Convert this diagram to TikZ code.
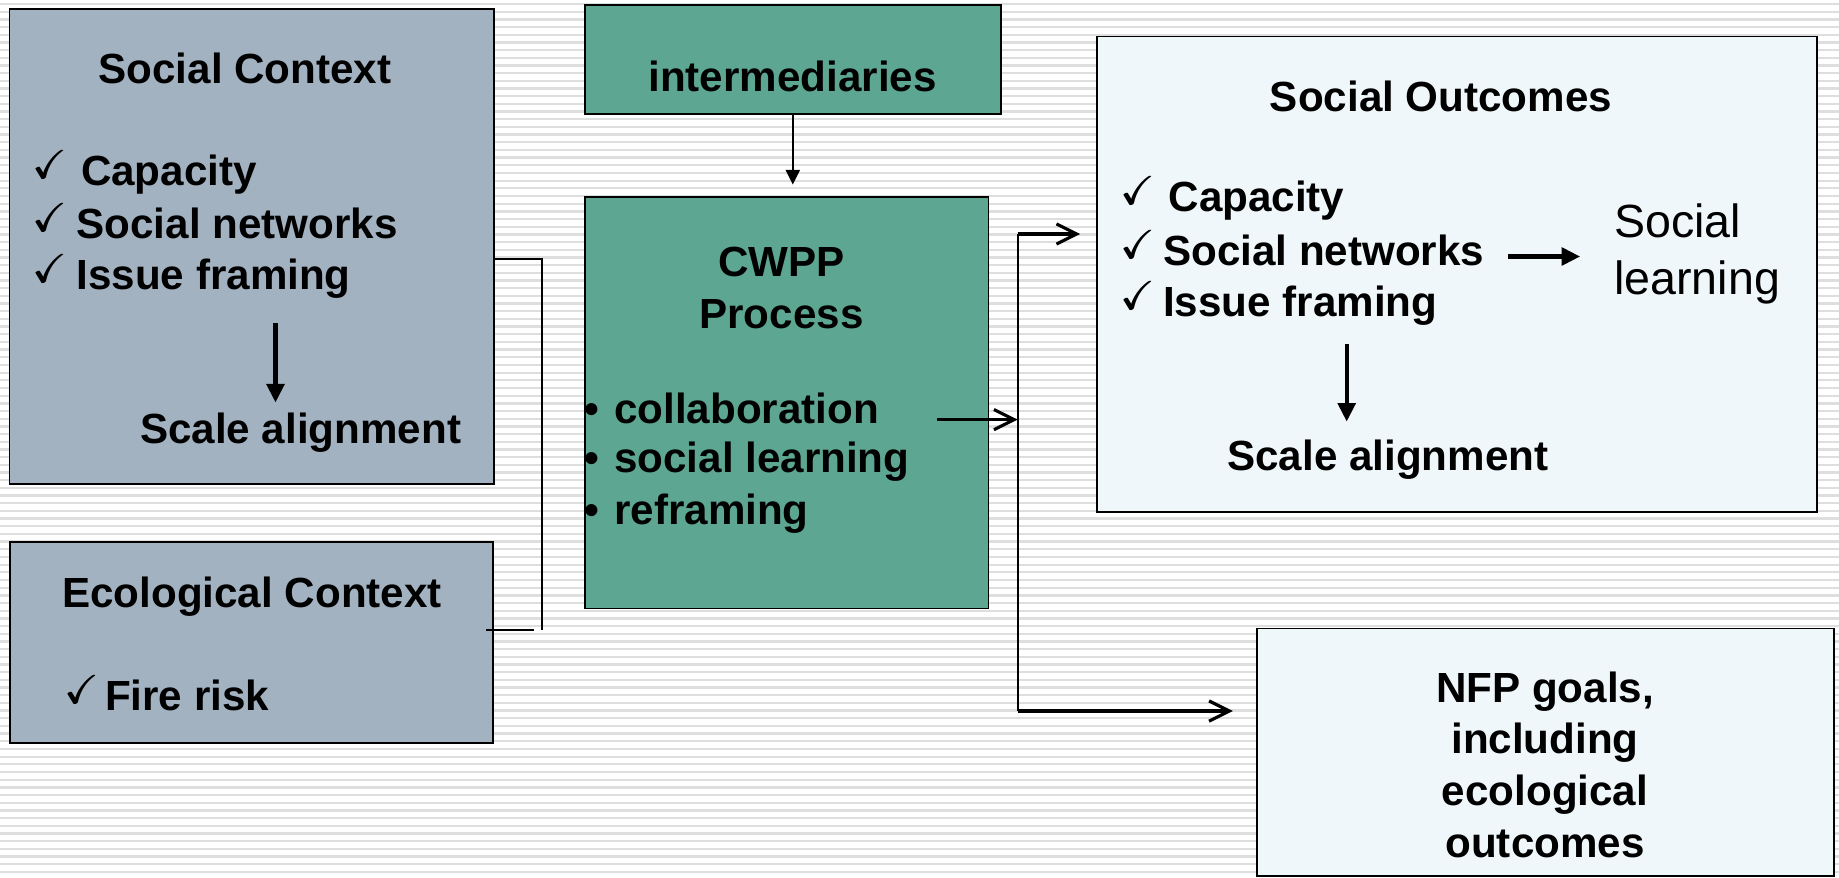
\documentclass[tikz,border=0pt]{standalone}
\usepackage{fontspec}
\setmainfont{Liberation Sans}
\usetikzlibrary{arrows.meta, positioning}

\definecolor{ctxgray}{RGB}{163,178,193}
\definecolor{cwppgreen}{RGB}{93,167,146}
\definecolor{outpale}{RGB}{239,247,250}
\definecolor{stripe}{RGB}{222,222,222}

% check mark taken from the AMS symbol font, printed twice to thicken it
\newcommand{\tickglyph}{\fontsize{23}{23}\usefont{U}{msa}{m}{n}\char"58}
\newcommand{\tick}[1]{\raisebox{3.5pt}{\rlap{\tickglyph}\kern0.6pt\tickglyph}\hspace{#1}}

\tikzset{
    box/.style={draw=black, line width=1.1pt, rectangle, inner sep=0pt},
    txt/.style={inner sep=0pt, font=\bfseries\fontsize{24}{29.5}\selectfont},
    item/.style={txt, anchor=base west},
    fatarrow/.style={line width=2.3pt, -{Triangle[length=10.5pt, width=10pt]}},
    thinarrow/.style={line width=1.3pt, -{Triangle[length=8.5pt, width=8pt]}},
    flow/.style={line width=1.8pt, -{Straight Barb[length=11.5pt, width=11.5pt]}},
    bracket/.style={line width=1.1pt}
}

\begin{document}
\begin{tikzpicture}[x=0.02cm, y=-0.02cm]
            % striped background
            \useasboundingbox (0,0) rectangle (1839,877);
            \fill[white] (0,0) rectangle (1839,877);
            \foreach \k in {0,...,113}
                \draw[stripe, line width=1.3pt] (0,4+7.68*\k) -- (1839,4+7.68*\k);

            % boxes
            \node (socctx) at (251.7,246.9) [box, fill=ctxgray, minimum width=9.69cm, minimum height=9.5cm] {};
            \node (ecoctx) at (251.3,642.1) [box, fill=ctxgray, minimum width=9.67cm, minimum height=4.02cm] {};
            \node (interm) at (792.8,59.3) [box, fill=cwppgreen, minimum width=8.33cm, minimum height=2.19cm] {};
            \node (cwpp) at (786.8,402.8) [box, fill=cwppgreen, minimum width=8.07cm, minimum height=8.23cm] {};
            \node (socout) at (1456.8,274.2) [box, fill=outpale, minimum width=14.41cm, minimum height=9.51cm] {};
            \node (nfp) at (1545.2,752.2) [box, fill=outpale, minimum width=11.54cm, minimum height=4.95cm] {};

            % social context
            \node (sctitle) at (245,83) [txt, anchor=base] {Social Context};
            \node (sccap) at (31.7,185) [item] {\tick{8.1pt}Capacity};
            \node (scnet) at (31.7,238) [item] {\tick{5.6pt}Social networks};
            \node (scissue) at (31.7,289) [item] {\tick{5.6pt}Issue framing};
            \node (scscale) at (139.7,443) [item] {Scale alignment};

            % ecological context
            \node (ecotitle) at (252,607) [txt, anchor=base] {Ecological Context};
            \node (ecofire) at (64,710) [item] {\tick{3.4pt}Fire risk};

            % process
            \node (intertxt) at (792.5,91) [txt, anchor=base] {intermediaries};
            \node (cwtitle) at (781.5,246.7) [txt, anchor=north, align=center] {CWPP\\Process};
            \node (cwcollab) at (584.4,423) [item] {\textbullet\hspace{8.4pt}collaboration};
            \node (cwlearn) at (584.4,472.6) [item] {\textbullet\hspace{8.4pt}social learning};
            \node (cwrefr) at (584.4,524.5) [item] {\textbullet\hspace{8.4pt}reframing};

            % outcomes
            \node (sotitle) at (1441,111) [txt, anchor=base] {Social Outcomes};
            \node (socap) at (1120,211) [item] {\tick{7.7pt}Capacity};
            \node (sonet) at (1120,265) [item] {\tick{4.6pt}Social networks};
            \node (soissue) at (1120,316) [item] {\tick{4.6pt}Issue framing};
            \node (soscale) at (1227,470) [item] {Scale alignment};
            \node (solearn) at (1614,253.8) [anchor=west, inner sep=0pt, align=left, font=\fontsize{26.5}{32.3}\selectfont] {Social\\learning};
            \node (nfptxt) at (1545,671.2) [txt, anchor=north, align=center] {NFP goals,\\including\\ecological\\outcomes};

            % bracket joining the two contexts
            \coordinate (brtop) at (541.7,259);
            \coordinate (brbot) at (541.7,630);
            \draw[bracket] (socctx.east |- brtop) -- (brtop) -- (brbot);
            \draw[bracket] ([xshift=-4.5pt]ecoctx.east |- brbot) -- ([xshift=-4.2pt]brbot);

            % intermediaries feed the process
            \draw[thinarrow, shorten >=6.5pt] (interm.south) -- (interm.south |- cwpp.north);

            % process output splits in two
            \coordinate (cwout) at (937,419.6);
            \coordinate (split) at (1017.7,419.6);
            \coordinate (jtop) at (1017.7,234);
            \coordinate (jbot) at (1017.7,711);
            \draw[bracket] (jtop) -- (jbot);
            \draw[flow] (cwout) -- (split);
            \draw[flow, shorten >=8.8pt] (jtop) -- (jtop -| socout.west);
            \draw[flow, shorten >=13.1pt] (jbot) -- (jbot -| nfp.west);

            % arrows inside the boxes
            \coordinate (scdrop) at (275.5,323);
            \draw[fatarrow, shorten >=5.5pt] (scdrop) -- (scdrop |- scscale.north);
            \coordinate (sodrop) at (1346.7,344);
            \draw[fatarrow, shorten >=10pt] (sodrop) -- (sodrop |- soscale.north);
            \coordinate (solink) at (1508,256.5);
            \draw[fatarrow, shorten >=19.3pt] (solink) -- (solink -| solearn.west);
\end{tikzpicture}
\end{document}
